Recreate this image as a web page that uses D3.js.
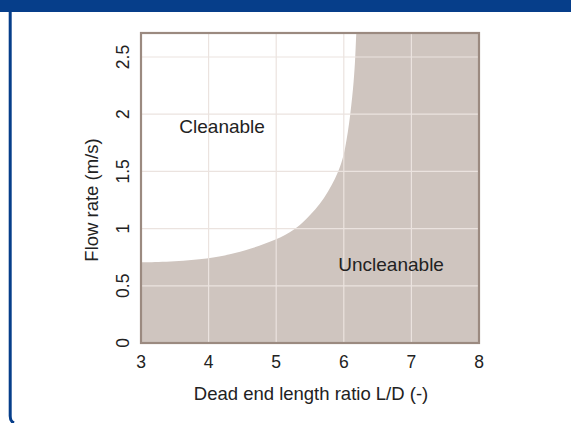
<!DOCTYPE html>
<html>
<head>
<meta charset="utf-8">
<script src="https://cdn.jsdelivr.net/npm/d3@7"></script>
<style>
  body { margin: 0; background: #fff; }
  text { font-family: "Liberation Sans", Arial, sans-serif; fill: #222; }
</style>
</head>
<body>
<div id="chart"></div>
<script>
var svgWidth = 571;
var svgHeight = 423;

var margin = { top: 33, right: 92, bottom: 80, left: 141 };
var width  = 479 - margin.left;
var height = 343 - margin.top;

// boundary between cleanable and uncleanable
var boundaryX = [3, 3.5, 4, 4.32, 4.61, 5.0, 5.27, 5.43, 5.72, 5.93, 6.02, 6.1, 6.15, 6.17, 6.18, 6.185];
var boundaryY = [0.705, 0.713, 0.737, 0.773, 0.82, 0.9, 0.99, 1.07, 1.26, 1.5, 1.68, 2.0, 2.3, 2.5, 2.65, 2.71];

var xTicks = [3, 4, 5, 6, 7, 8];
var yTicks = [0, 0.5, 1, 1.5, 2, 2.5];
var xDomain = [3, 8];
var yDomain = [0, 2.71];

var regionLabels = ["Cleanable", "Uncleanable"];
var regionX = [4.2, 6.7];
var regionY = [1.84, 0.63];

var svg = d3.select("#chart")
  .append("svg")
  .attr("width", svgWidth)
  .attr("height", svgHeight);

// blue frame: top band and left rule
svg.append("rect")
  .attr("x", 0).attr("y", 0)
  .attr("width", svgWidth).attr("height", 12)
  .attr("fill", "#063e8a");
svg.append("path")
  .attr("d", "M10.2,12 V416 Q10.2,421.5 14,423")
  .attr("fill", "none")
  .attr("stroke", "#063e8a")
  .attr("stroke-width", 3);

var chartGroup = svg.append("g")
  .attr("transform", `translate(${margin.left}, ${margin.top})`);

var x = d3.scaleLinear().domain(xDomain).range([0, width]);
var y = d3.scaleLinear().domain(yDomain).range([height, 0]);

chartGroup.append("clipPath").attr("id", "plotclip")
  .append("rect").attr("width", width).attr("height", height);

// shaded uncleanable area: smooth boundary, then close along the plot edges
var pts = boundaryX.map((d, i) => [x(d), y(boundaryY[i])]);
var boundaryLine = d3.line().curve(d3.curveBasis);
var shade = boundaryLine(pts) +
  `L${x(xDomain[1])},${y(yDomain[1])}` +
  `L${x(xDomain[1])},${y(0)}` +
  `L${x(xDomain[0])},${y(0)}Z`;

chartGroup.append("path")
  .attr("clip-path", "url(#plotclip)")
  .attr("fill", "#cfc5bf")
  .attr("d", shade);

// grid
chartGroup.append("g")
  .selectAll("line")
  .data(xTicks.slice(1, -1))
  .enter().append("line")
  .attr("x1", d => x(d)).attr("x2", d => x(d))
  .attr("y1", 0).attr("y2", height)
  .attr("stroke", "#ebe3df").attr("stroke-width", 1.2);

chartGroup.append("g")
  .selectAll("line")
  .data(yTicks.slice(1))
  .enter().append("line")
  .attr("x1", 0).attr("x2", width)
  .attr("y1", d => y(d)).attr("y2", d => y(d))
  .attr("stroke", "#ebe3df").attr("stroke-width", 1.2);

// frame
chartGroup.append("rect")
  .attr("width", width).attr("height", height)
  .attr("fill", "none")
  .attr("stroke", "#9b8a80")
  .attr("stroke-width", 2.2);

// x tick labels
chartGroup.append("g")
  .selectAll("text")
  .data(xTicks)
  .enter().append("text")
  .attr("x", d => x(d))
  .attr("y", height + 25)
  .attr("text-anchor", "middle")
  .style("font-size", "17.5px")
  .text(d => d);

// y tick labels, rotated
chartGroup.append("g")
  .selectAll("text")
  .data(yTicks)
  .enter().append("text")
  .attr("transform", d => `translate(-12, ${y(d)}) rotate(-90)`)
  .attr("text-anchor", "middle")
  .style("font-size", "17.5px")
  .text(d => d);

// axis titles
chartGroup.append("text")
  .attr("x", 311 - margin.left)
  .attr("y", 400 - margin.top)
  .attr("text-anchor", "middle")
  .style("font-size", "18.5px")
  .text("Dead end length ratio L/D (-)");

chartGroup.append("text")
  .attr("transform", `translate(${98 - margin.left}, ${200 - margin.top}) rotate(-90)`)
  .attr("text-anchor", "middle")
  .style("font-size", "18.5px")
  .text("Flow rate (m/s)");

// region labels
chartGroup.append("g")
  .selectAll("text")
  .data(regionLabels)
  .enter().append("text")
  .attr("x", (d, i) => x(regionX[i]))
  .attr("y", (d, i) => y(regionY[i]))
  .attr("text-anchor", "middle")
  .style("font-size", "19px")
  .text(d => d);
</script>
</body>
</html>
